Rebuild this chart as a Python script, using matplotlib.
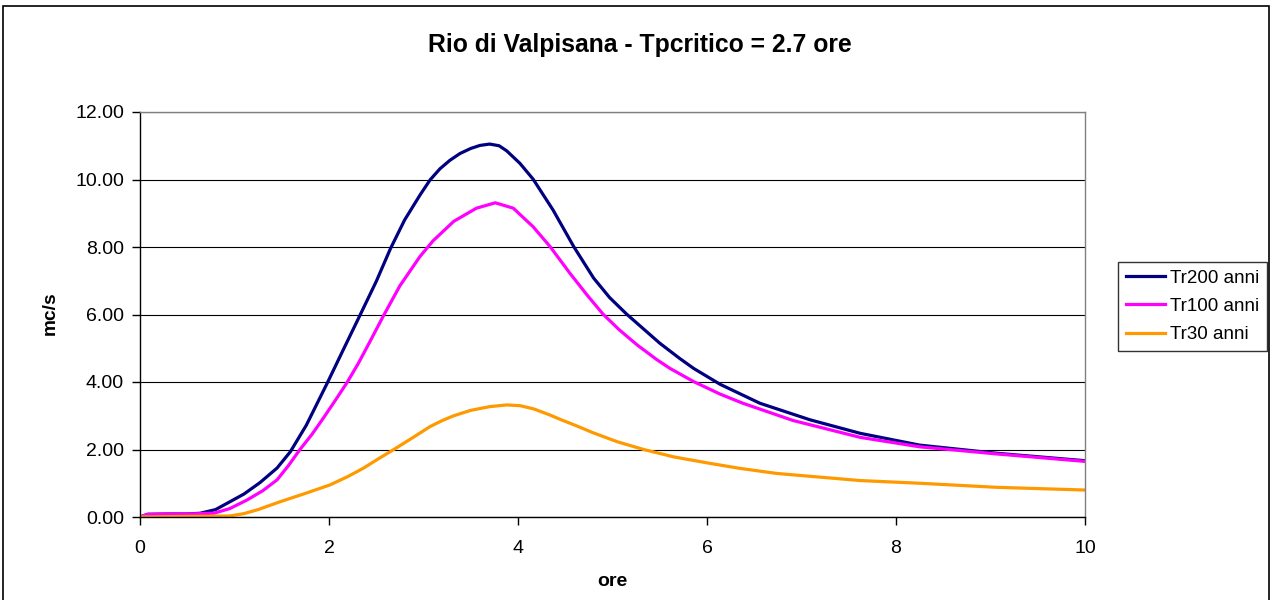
import numpy as np
import matplotlib.pyplot as plt
from matplotlib.patches import Rectangle

plt.rcParams['font.family'] = ['Liberation Sans', 'DejaVu Sans']

# Tr200 anni (ore, mc/s)
t200 = [0.0, 0.08, 0.3, 0.5, 0.635, 0.8, 0.95, 1.1, 1.27, 1.45, 1.59, 1.76, 1.98, 2.15,
        2.33, 2.5, 2.65, 2.8, 2.963, 3.07, 3.175, 3.28, 3.386, 3.5, 3.598, 3.70, 3.80,
        3.88, 4.02, 4.16, 4.37, 4.59, 4.80, 4.97, 5.15, 5.50, 5.71, 5.86, 6.14, 6.56,
        7.09, 7.62, 8.25, 9.06, 9.99]
v200 = [0.0, 0.08, 0.09, 0.09, 0.11, 0.22, 0.45, 0.68, 1.02, 1.45, 1.93, 2.72, 3.96, 4.95,
        5.99, 6.98, 7.95, 8.8, 9.54, 9.99, 10.32, 10.57, 10.77, 10.92, 11.01, 11.05, 11.0,
        10.85, 10.48, 10.01, 9.10, 8.01, 7.08, 6.50, 6.01, 5.15, 4.70, 4.40, 3.93, 3.37,
        2.88, 2.48, 2.13, 1.89, 1.67]

# Tr100 anni
t100 = [0.0, 0.08, 0.3, 0.5, 0.78, 0.95, 1.13, 1.3, 1.45, 1.57, 1.69, 1.82, 1.94, 2.07,
        2.19, 2.31, 2.43, 2.57, 2.75, 2.963, 3.10, 3.32, 3.56, 3.76, 3.95, 4.16, 4.34,
        4.55, 4.73, 4.90, 5.07, 5.26, 5.47, 5.61, 5.86, 6.14, 6.38, 6.91, 7.62, 8.25,
        9.06, 9.99]
v100 = [0.0, 0.08, 0.09, 0.09, 0.11, 0.25, 0.50, 0.78, 1.10, 1.52, 1.99, 2.45, 2.93, 3.47,
        3.98, 4.55, 5.18, 5.93, 6.85, 7.72, 8.18, 8.76, 9.15, 9.31, 9.15, 8.60, 8.01,
        7.22, 6.58, 6.01, 5.55, 5.10, 4.66, 4.40, 4.01, 3.64, 3.37, 2.86, 2.36, 2.08,
        1.87, 1.65]

# Tr30 anni
t30 = [0.0, 0.3, 0.6, 0.95, 1.1, 1.25, 1.48, 1.75, 2.01, 2.2, 2.36, 2.52, 2.68, 2.88,
       3.07, 3.2, 3.32, 3.50, 3.70, 3.88, 4.02, 4.17, 4.34, 4.44, 4.62, 4.80, 5.05,
       5.33, 5.65, 6.03, 6.35, 6.74, 7.2, 7.62, 8.25, 9.06, 9.99]
v30 = [0.0, 0.01, 0.02, 0.03, 0.1, 0.22, 0.45, 0.70, 0.95, 1.2, 1.44, 1.72, 1.99, 2.34,
       2.68, 2.86, 3.00, 3.16, 3.27, 3.32, 3.30, 3.20, 3.02, 2.90, 2.70, 2.49, 2.23,
       2.00, 1.78, 1.59, 1.44, 1.29, 1.18, 1.08, 1.00, 0.88, 0.80]

series = [
    (t200, v200, 'Tr200 anni', '#000080'),
    (t100, v100, 'Tr100 anni', '#FF00FF'),
    (t30, v30, 'Tr30 anni', '#FF9900'),
]

fig = plt.figure(figsize=(12.73, 6.0), dpi=100)
ax = fig.add_axes([140 / 1273, 83 / 600, 945 / 1273, 405 / 600])

for t, v, lab, col in series:
    ax.plot(t, v, color=col, lw=2.3, label=lab, solid_joinstyle='round')

ax.set_xlim(0, 10)
ax.set_ylim(0, 12)
ax.set_xticks(np.arange(0, 11, 2))
ax.set_yticks(np.arange(0, 12.1, 2))
ax.set_yticklabels(['%.2f' % y for y in np.arange(0, 12.1, 2)])
ax.tick_params(labelsize=14, length=5.5, width=1, direction='out', pad=6)
ax.tick_params(axis='x', pad=11)
ax.grid(axis='y', color='black', lw=0.8)
ax.set_axisbelow(True)
for s in ['top', 'right']:
    ax.spines[s].set_color('#808080')
    ax.spines[s].set_linewidth(1)
for s in ['left', 'bottom']:
    ax.spines[s].set_color('black')
    ax.spines[s].set_linewidth(1)

fig.text(0.503, 1 - 45 / 600, 'Rio di Valpisana - Tpcritico = 2.7 ore', ha='center', va='center',
         fontsize=17.8, fontweight='bold')
fig.text(612 / 1273, 1 - 581 / 600, 'ore', ha='center', va='center', fontsize=14, fontweight='bold')
fig.text(50 / 1273, 1 - 313 / 600, 'mc/s', ha='center', va='center', fontsize=13.8,
         fontweight='bold', rotation=90)

leg = ax.legend(loc='upper left', bbox_to_anchor=(1118 / 1273, 1 - 262 / 600),
                bbox_transform=fig.transFigure, fontsize=13.5, frameon=True, fancybox=False,
                handlelength=2.1, handletextpad=0.3, borderpad=0.4, labelspacing=0.6,
                borderaxespad=0)
leg.get_frame().set_edgecolor('black')
leg.get_frame().set_linewidth(1)

fig.patches.append(Rectangle((3 / 1273, -0.01), 1266 / 1273, 1.0 - 6 / 600 + 0.01,
                             transform=fig.transFigure, fill=False, edgecolor='black',
                             lw=1.2, clip_on=False))

fig.savefig('out.png', dpi=100)
